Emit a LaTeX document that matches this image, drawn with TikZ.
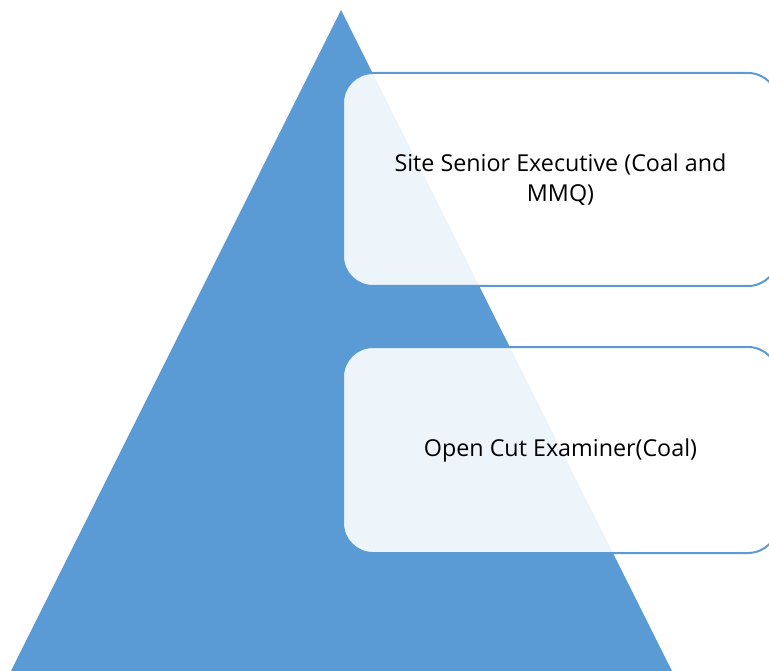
\documentclass[tikz,border=0pt]{standalone}
\usepackage{fontspec}
\setmainfont{Open Sans}
\definecolor{tri}{HTML}{5B9BD5}
\tikzset{
  lvl/.style={draw=tri, line width=2pt, fill=white, fill opacity=0.9, text opacity=1, rounded corners=30pt, align=center, font=\fontsize{23.3}{30}\selectfont, text=black}
}
\begin{document}
\begin{tikzpicture}[x=1pt,y=-1pt]
\useasboundingbox (0,0) rectangle (769,671);
\clip (0,0) rectangle (769,671);
\fill[tri] (341,10) -- (672,671) -- (11,671) -- cycle;
\node[lvl, minimum width=435pt, minimum height=213pt] (b1) at (560.5,179.5) {Site Senior Executive (Coal and\\MMQ)};
\node[lvl, minimum width=435pt, minimum height=206pt] (b2) at (560.5,450) {Open Cut Examiner(Coal)};
\end{tikzpicture}
\end{document}
